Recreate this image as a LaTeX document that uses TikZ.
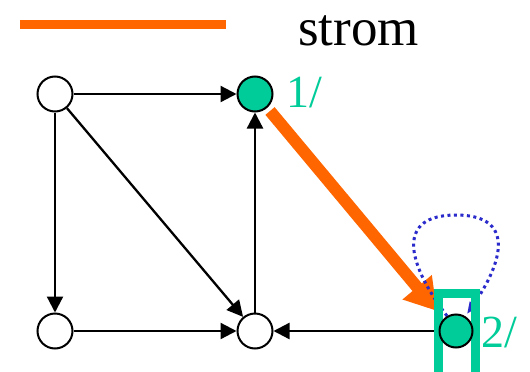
\documentclass[tikz,border=0pt]{standalone}
\usepackage{fontspec}
\setmainfont{Liberation Serif}
\usetikzlibrary{arrows.meta}
\definecolor{orng}{HTML}{FF6600}
\definecolor{grn}{HTML}{00CC99}
\definecolor{dotblue}{HTML}{2B2BCC}
\begin{document}
\begin{tikzpicture}[x=1pt,y=-1pt,
  vert/.style={circle,draw=black,line width=2pt,fill=white,minimum size=35pt,inner sep=0pt},
  gvert/.style={vert,fill=grn},
  edge/.style={line width=2.3pt,-{Triangle[length=16pt,width=16pt]}},
  lbl/.style={text=grn,font=\fontsize{46}{46}\selectfont,inner sep=0pt,anchor=base west}]
\clip (0,0) rectangle (530,372);
\fill[white] (0,0) rectangle (530,372);
% legend
\draw[orng,line width=9pt] (20,24.5) -- (226,24.5);
\node[font=\fontsize{53}{53}\selectfont,inner sep=0pt,anchor=base west] (leg) at (298,45) {strom};
% nodes
\node[vert] (A) at (55,94) {};
\node[gvert] (B) at (255,94) {};
\node[vert] (C) at (55,331) {};
\node[vert] (D) at (255,331) {};
\coordinate (Epos) at (456,331);
\node[lbl] (l1) at (286,107) {1/};
\node[lbl] (l2) at (481,347) {2/};
% edges
\draw[edge] (A) -- (B);
\draw[edge] (A) -- (C);
\draw[edge] (A) -- (D);
\draw[edge] (C) -- (D);
\draw[edge] (D) -- (B);
\draw[edge] (Epos) ++(-17,0) coordinate (Eleft) (Eleft) -- (D);
% orange tree arrow
\coordinate (os) at (270,111);
\coordinate (ot) at (437,311);
\draw[orng,line width=12pt,-{Triangle[length=31pt,width=36pt]}] (os) -- (ot);
% dotted self loop
\coordinate (ls) at (447,316);
\coordinate (le) at (467,314);
\draw[dotblue,line width=3pt,dash pattern=on 3pt off 3.5pt,-{Triangle[length=12pt,width=9pt]}]
  (ls) .. controls (406,262) and (396,215) .. (456,215)
       .. controls (516,215) and (503,262) .. (le);
% green box
\draw[grn,line width=9pt] (438.5,380) -- (438.5,293.5) -- (475.5,293.5) -- (475.5,380);
\node[gvert,minimum size=33pt] (E) at (Epos) {};
\end{tikzpicture}
\end{document}
